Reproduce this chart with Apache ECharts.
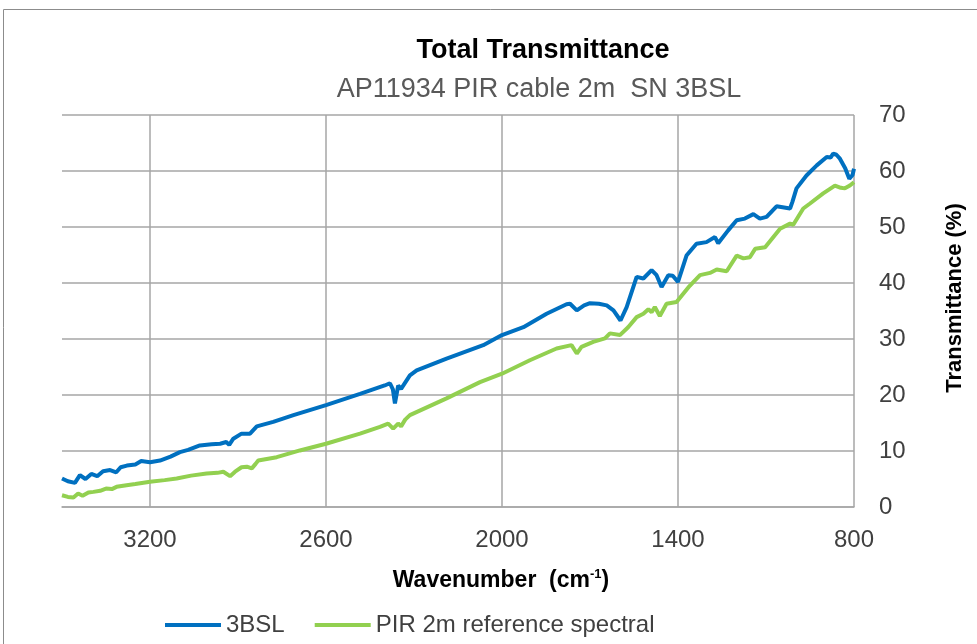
<!DOCTYPE html>
<html>
<head>
<meta charset="utf-8">
<script src="https://cdn.jsdelivr.net/npm/echarts@6/dist/echarts.min.js"></script>
<style>
  html, body { margin: 0; padding: 0; background: #fff; }
  #chart { width: 977px; height: 644px; }
</style>
</head>
<body>
<div id="chart"></div>
<script>
  // wavenumber (cm-1) / transmittance (%)
  const wn3BSL = [3500, 3480, 3456, 3439, 3420, 3400, 3380, 3360, 3336, 3315, 3300, 3279, 3250, 3230, 3200,
    3166, 3130, 3098, 3070, 3030, 2990, 2961, 2940, 2930, 2916, 2888, 2859, 2836, 2780, 2711, 2600, 2484,
    2400, 2382, 2372, 2365, 2358, 2354, 2344, 2314, 2291, 2189, 2064, 2000, 1927, 1848, 1780, 1768, 1745,
    1720, 1700, 1670, 1643, 1620, 1596, 1575, 1541, 1518, 1490, 1473, 1456, 1433, 1418, 1400, 1371, 1337,
    1303, 1274, 1263, 1229, 1200, 1172, 1143, 1121, 1098, 1064, 1018, 1010, 996, 962, 927, 893, 880, 871,
    860, 848, 830, 816, 805, 800]
  const t3BSL = [5.1, 4.6, 4.3, 5.7, 5.0, 5.9, 5.5, 6.4, 6.6, 6.2, 7.1, 7.4, 7.6, 8.2, 8.0,
    8.3, 9.0, 9.8, 10.2, 11.0, 11.2, 11.3, 11.6, 11.1, 12.2, 13.1, 13.1, 14.4, 15.2, 16.4, 18.2, 20.2,
    21.7, 22.1, 21.0, 18.5, 20.5, 21.7, 21.1, 23.5, 24.4, 26.5, 28.9, 30.7, 32.1, 34.5, 36.2, 36.3, 35.1,
    36.0, 36.4, 36.3, 36.0, 35.1, 33.3, 35.7, 41.1, 40.8, 42.3, 41.4, 39.3, 41.4, 41.3, 40.2, 44.9, 47.0,
    47.3, 48.2, 47.1, 49.4, 51.2, 51.5, 52.3, 51.5, 51.8, 53.7, 53.3, 54.5, 56.9, 59.2, 61.0, 62.5, 62.4, 63.1,
    62.9, 62.2, 60.5, 58.6, 59.3, 60.4]

  const wnRef = [3500, 3480, 3461, 3445, 3430, 3410, 3393, 3370, 3350, 3330, 3314, 3280, 3250, 3200, 3150,
    3109, 3060, 3007, 2970, 2950, 2927, 2910, 2888, 2870, 2853, 2840, 2831, 2768, 2689, 2600, 2484, 2416,
    2388, 2371, 2354, 2344, 2330, 2314, 2189, 2075, 2000, 1905, 1814, 1763, 1745, 1729, 1689, 1649, 1632,
    1598, 1570, 1541, 1518, 1501, 1490, 1479, 1462, 1439, 1405, 1400, 1360, 1325, 1291, 1268, 1234, 1200,
    1177, 1155, 1137, 1103, 1052, 1018, 1007, 973, 950, 905, 865, 845, 831, 814, 800]
  const tRef = [2.1, 1.8, 1.7, 2.4, 2.0, 2.6, 2.7, 2.9, 3.3, 3.2, 3.6, 3.9, 4.1, 4.5, 4.8,
    5.1, 5.6, 6.0, 6.1, 6.3, 5.5, 6.3, 7.1, 7.2, 6.9, 7.7, 8.3, 8.9, 10.1, 11.3, 13.1, 14.3,
    14.9, 14.0, 14.9, 14.4, 15.6, 16.4, 19.4, 22.3, 23.8, 26.2, 28.3, 28.9, 27.4, 28.6, 29.5, 30.1, 31.0,
    30.7, 32.1, 33.9, 34.5, 35.3, 34.8, 35.7, 34.1, 36.3, 36.6, 36.6, 39.5, 41.4, 41.8, 42.4, 42.1, 44.9,
    44.4, 44.6, 46.1, 46.4, 49.7, 50.6, 50.4, 53.3, 54.2, 56.0, 57.4, 57.0, 56.9, 57.4, 58.0]

  const seriesNames = ['3BSL', 'PIR 2m reference spectral']
  const xTicks = [800, 1400, 2000, 2600, 3200]

  const font = "'Liberation Sans', Arial, sans-serif"
  const gridColor = '#a6a6a6'
  const textColor = '#404040'

  const pairs = (xs, ys) => xs.map((x, i) => [x, ys[i]])

  const chart = echarts.init(document.getElementById('chart'))
  chart.setOption({
    animation: false,
    textStyle: { fontFamily: font },
    title: [{
      text: 'Total Transmittance',
      left: 538,
      top: 32,
      textAlign: 'center',
      textStyle: { fontSize: 27, fontWeight: 'bold', color: '#000', fontFamily: font }
    }, {
      text: 'AP11934 PIR cable 2m  SN 3BSL',
      left: 534,
      top: 71,
      textAlign: 'center',
      textStyle: { fontSize: 27, fontWeight: 'normal', color: '#595959', fontFamily: font }
    }],
    graphic: [{
      type: 'rect',
      shape: { x: 3.5, y: 9.5, width: 1000, height: 700 },
      style: { fill: 'none', stroke: '#8c8c8c', lineWidth: 1 },
      silent: true
    }],
    grid: { left: 62, right: 123, top: 115, bottom: 137 },
    legend: {
      bottom: 2,
      left: 160,
      icon: 'rect',
      itemWidth: 56,
      itemHeight: 4,
      itemGap: 30,
      textStyle: { fontSize: 24, color: textColor, fontFamily: font },
      data: seriesNames
    },
    xAxis: {
      type: 'value',
      inverse: true,
      min: 800,
      max: 3500,
      interval: 600,
      name: '{b|Wavenumber  (cm}{s|-1}{b|)}',
      nameLocation: 'middle',
      nameGap: 61,
      nameTextStyle: {
        padding: [0, 0, 0, 86],
        rich: {
          b: { fontSize: 23, fontWeight: 'bold', color: '#000', fontFamily: font },
          s: { fontSize: 13, fontWeight: 'bold', color: '#000', fontFamily: font, verticalAlign: 'top', padding: [0, 0, 12, 0] }
        }
      },
      axisLine: { show: true, lineStyle: { color: gridColor, width: 1.5 } },
      axisTick: { show: false },
      axisLabel: {
        margin: 21,
        fontSize: 24,
        color: textColor,
        fontFamily: font,
        formatter: v => (xTicks.indexOf(v) >= 0 ? String(v) : '')
      },
      splitLine: { show: true, showMaxLine: false, lineStyle: { color: gridColor, width: 1.5 } }
    },
    yAxis: {
      type: 'value',
      position: 'right',
      min: 0,
      max: 70,
      interval: 10,
      name: 'Transmittance (%)',
      nameLocation: 'middle',
      nameRotate: 90,
      nameGap: 90,
      nameTextStyle: { fontSize: 22, fontWeight: 'bold', color: '#000', fontFamily: font, padding: [0, 0, 0, 26] },
      axisLine: { show: false },
      axisTick: { show: false },
      axisLabel: { margin: 25, fontSize: 24, color: textColor, fontFamily: font },
      splitLine: { show: true, lineStyle: { color: gridColor, width: 1.5 } }
    },
    series: [{
      name: seriesNames[0],
      type: 'line',
      showSymbol: false,
      color: '#0070c0',
      lineStyle: { width: 4, color: '#0070c0' },
      data: pairs(wn3BSL, t3BSL)
    }, {
      name: seriesNames[1],
      type: 'line',
      showSymbol: false,
      color: '#92d050',
      lineStyle: { width: 4, color: '#92d050' },
      data: pairs(wnRef, tRef)
    }]
  })
</script>
</body>
</html>
